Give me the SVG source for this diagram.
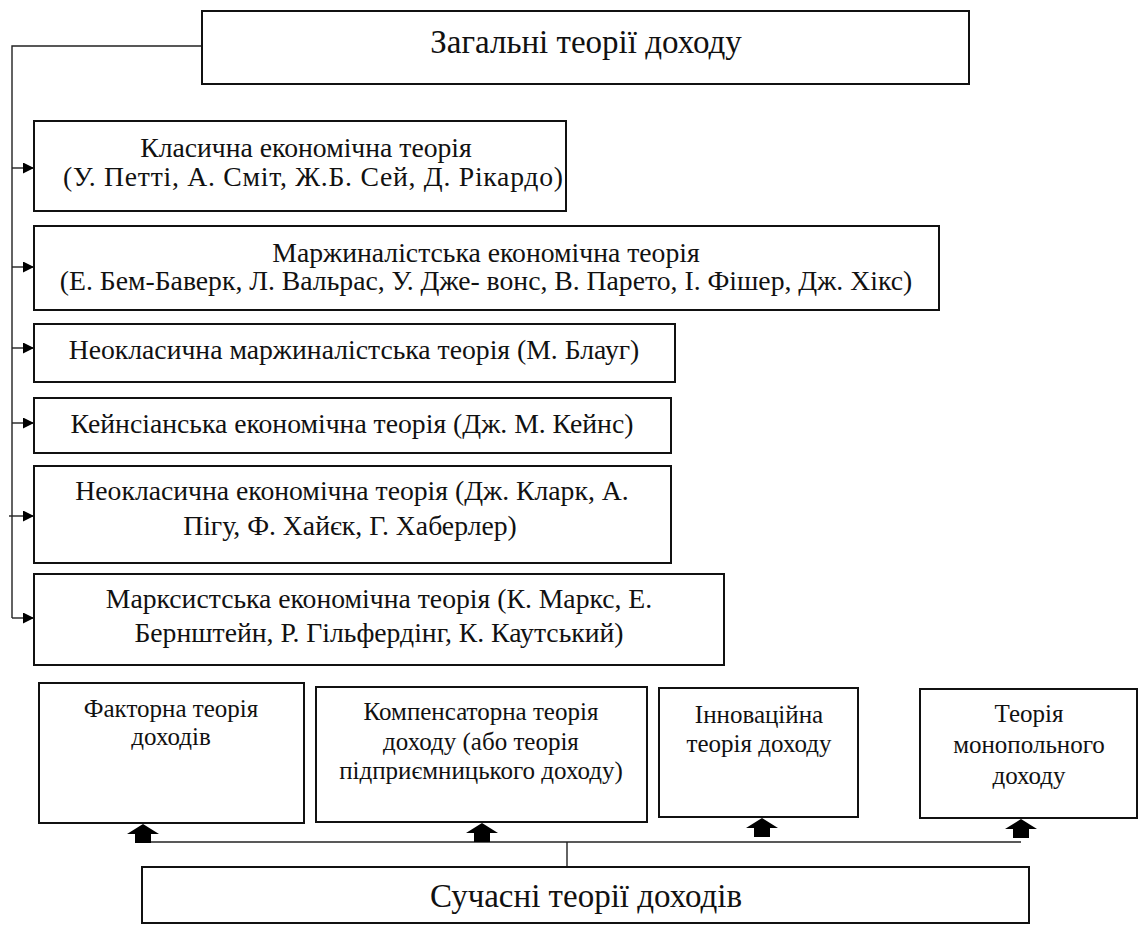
<svg xmlns="http://www.w3.org/2000/svg" width="1139" height="925" viewBox="0 0 1139 925">
  <style>
    .box { fill: #ffffff; stroke: #111111; stroke-width: 2; }
    .t { font-family: "Liberation Serif", "Times New Roman", serif; fill: #111111; text-anchor: middle; }
    .title { font-size: 33px; }
    .body { font-size: 27.7px; }
    .small { font-size: 25px; }
    .wire { fill: none; stroke: #222222; stroke-width: 1.4; }
    .head { fill: #000000; }
  </style>
  <defs>
    <marker id="tri" viewBox="0 0 10 10" refX="10" refY="5" markerWidth="13" markerHeight="11" markerUnits="userSpaceOnUse" orient="auto">
      <path d="M0,0 L10,5 L0,10 Z" class="head"/>
    </marker>
    <path id="upArrow" d="M0,0 L16,10 L8,10 L8,19 L-8,19 L-8,10 L-16,10 Z" class="head"/>
  </defs>

  <!-- connectors -->
  <g id="connectors">
    <!-- general theories: trunk and branches -->
    <polyline class="wire" points="202,46 12,46 12,618"/>
    <line class="wire" x1="12" y1="168" x2="34" y2="168" marker-end="url(#tri)"/>
    <line class="wire" x1="12" y1="267" x2="34" y2="267" marker-end="url(#tri)"/>
    <line class="wire" x1="12" y1="348" x2="34" y2="348" marker-end="url(#tri)"/>
    <line class="wire" x1="12" y1="423" x2="34" y2="423" marker-end="url(#tri)"/>
    <line class="wire" x1="9" y1="516" x2="34" y2="516" marker-end="url(#tri)"/>
    <line class="wire" x1="12" y1="618" x2="34" y2="618" marker-end="url(#tri)"/>
    <!-- modern theories: bus and block arrows -->
    <line class="wire" x1="143" y1="842" x2="1021" y2="842"/>
    <line class="wire" x1="567" y1="842" x2="567" y2="867"/>
    <use href="#upArrow" x="143" y="824"/>
    <use href="#upArrow" x="482" y="823"/>
    <use href="#upArrow" x="762" y="818"/>
    <use href="#upArrow" x="1021" y="819"/>
  </g>

  <g id="general">
    <rect class="box" x="202" y="11" width="767" height="73"/>
    <text class="t title" x="586" y="53">Загальні теорії доходу</text>
  </g>

  <g id="classical">
    <rect class="box" x="34" y="121" width="532" height="90"/>
    <text class="t body" x="306" y="157">Класична економічна теорія</text>
    <text class="t body" x="313" y="186" textLength="500" lengthAdjust="spacing">(У. Петті, А. Сміт, Ж.Б. Сей, Д. Рікардо)</text>
  </g>

  <g id="marginalist">
    <rect class="box" x="34" y="226" width="905" height="84"/>
    <text class="t body" x="486" y="262">Маржиналістська економічна теорія</text>
    <text class="t body" x="486" y="290">(Е. Бем-Баверк, Л. Вальрас, У. Дже- вонс, В. Парето, І. Фішер, Дж. Хікс)</text>
  </g>

  <g id="neo-marginalist">
    <rect class="box" x="34" y="324" width="641" height="58"/>
    <text class="t body" x="354" y="359">Неокласична маржиналістська теорія (М. Блауг)</text>
  </g>

  <g id="keynesian">
    <rect class="box" x="34" y="398" width="637" height="55"/>
    <text class="t body" x="352" y="433">Кейнсіанська економічна теорія (Дж. М. Кейнс)</text>
  </g>

  <g id="neoclassical">
    <rect class="box" x="34" y="466" width="637" height="97"/>
    <text class="t body" x="352" y="500">Неокласична економічна теорія (Дж. Кларк, А.</text>
    <text class="t body" x="350" y="535">Пігу, Ф. Хайєк, Г. Хаберлер)</text>
  </g>

  <g id="marxist">
    <rect class="box" x="34" y="574" width="690" height="91"/>
    <text class="t body" x="379" y="608">Марксистська економічна теорія (К. Маркс, Е.</text>
    <text class="t body" x="379" y="642">Бернштейн, Р. Гільфердінг, К. Каутський)</text>
  </g>

  <g id="factor">
    <rect class="box" x="39" y="683" width="265" height="140"/>
    <text class="t small" x="171" y="717">Факторна теорія</text>
    <text class="t small" x="171" y="745">доходів</text>
  </g>

  <g id="compensatory">
    <rect class="box" x="316" y="687" width="331" height="135"/>
    <text class="t small" x="481" y="720">Компенсаторна теорія</text>
    <text class="t small" x="481" y="750">доходу (або теорія</text>
    <text class="t small" x="481" y="779">підприємницького доходу)</text>
  </g>

  <g id="innovation">
    <rect class="box" x="659" y="688" width="199" height="129"/>
    <text class="t small" x="759" y="723">Інноваційна</text>
    <text class="t small" x="759" y="752">теорія доходу</text>
  </g>

  <g id="monopoly">
    <rect class="box" x="920" y="689" width="217" height="129"/>
    <text class="t small" x="1029" y="722">Теорія</text>
    <text class="t small" x="1029" y="753">монопольного</text>
    <text class="t small" x="1029" y="784">доходу</text>
  </g>

  <g id="modern">
    <rect class="box" x="142" y="867" width="887" height="56"/>
    <text class="t title" x="586" y="907">Сучасні теорії доходів</text>
  </g>
</svg>
